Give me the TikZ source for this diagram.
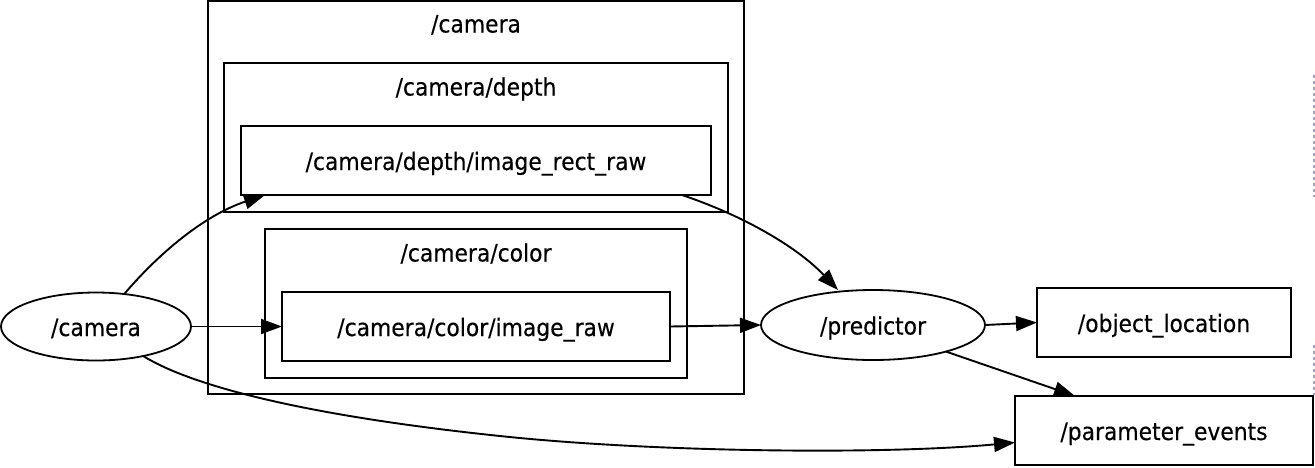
\documentclass[tikz,border=0pt]{standalone}
\usepackage{fontspec}
\setmainfont{DejaVu Sans}[FakeStretch=0.91,FakeBold=0.3]
\usetikzlibrary{shapes.geometric,arrows.meta}
\definecolor{dashgray}{RGB}{160,160,200}
\begin{document}
\begin{tikzpicture}[x=1pt,y=-1pt,
  every node/.style={inner sep=0pt, outer sep=0pt, text height=19pt, text depth=0pt,
    font=\fontsize{24pt}{28pt}\selectfont},
  clusterbox/.style={draw, line width=1.9pt, rectangle},
  topicbox/.style={draw, line width=1.9pt, rectangle},
  nodeell/.style={draw, line width=1.8pt, ellipse},
  edge/.style={line width=1.9pt, -{Triangle[length=21pt,width=15pt]}}
]
\useasboundingbox (0,0) rectangle (1315,467);
% clusters
\node[clusterbox, minimum width=536pt, minimum height=393pt] (clcam) at (476,197.5) {};
\node (clcamlab) at (476,23) {/camera};
\node[clusterbox, minimum width=504pt, minimum height=149pt] (cldepth) at (476,137.5) {};
\node (cldepthlab) at (476,86) {/camera/depth};
\node[clusterbox, minimum width=422pt, minimum height=149pt] (clcolor) at (476,303.5) {};
\node (clcolorlab) at (476,252) {/camera/color};
% topics
\node[topicbox, minimum width=470pt, minimum height=69pt] (irr) at (476,160.5) {/camera/depth/image\_rect\_raw};
\node[topicbox, minimum width=388pt, minimum height=69pt] (irw) at (476,326.5) {/camera/color/image\_raw};
\node[topicbox, minimum width=254pt, minimum height=69pt] (obj) at (1164,322.5) {/object\_location};
\node[topicbox, minimum width=298pt, minimum height=69pt] (param) at (1164,430.5) {/parameter\_events};
% nodes
\node[nodeell, minimum width=190pt, minimum height=68pt] (cam) at (96,326.5) {/camera};
\node[nodeell, minimum width=224pt, minimum height=70pt] (pred) at (873,325) {/predictor};
% edges
\draw[edge] (cam.49) .. controls (160,252) and (205,215) .. ([xshift=24pt]irr.south west);
\draw[edge] (cam.east) -- (irw.west);
\draw[edge] (cam.-32) .. controls (190,385) and (300,415) .. (500,436)
   .. controls (650,452) and (880,455) .. ([yshift=-12pt]param.west);
\draw[edge] ([xshift=-29pt]irr.south east) .. controls (750,218) and (800,250) .. ([xshift=-35pt]pred.north);
\draw[edge] (irw.east) -- (pred.west);
\draw[edge] (pred.east) -- (obj.west);
\draw[edge] (pred.-20) -- ([xshift=60pt]param.north west);
% faint dashed border
\draw[dashgray, line width=1.2pt, dashed] (1314,75) -- (1314,197);
\draw[dashgray, line width=1.2pt, dashed] (1314,345) -- (1314,395);
\end{tikzpicture}
\end{document}
